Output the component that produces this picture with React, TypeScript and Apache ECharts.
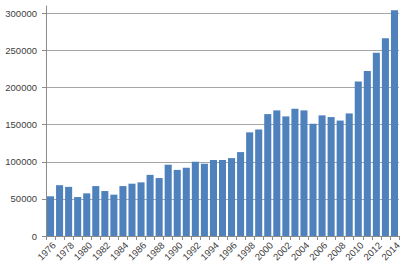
import React, { useEffect, useRef } from "react";
import * as echarts from "echarts";

const years: string[] = [
  "1976", "1977", "1978", "1979", "1980", "1981", "1982", "1983", "1984", "1985",
  "1986", "1987", "1988", "1989", "1990", "1991", "1992", "1993", "1994", "1995",
  "1996", "1997", "1998", "1999", "2000", "2001", "2002", "2003", "2004", "2005",
  "2006", "2007", "2008", "2009", "2010", "2011", "2012", "2013", "2014",
];

const values: number[] = [
  53500, 68500, 66200, 52500, 57500, 67300, 60600, 55700, 67300, 70500,
  72300, 82400, 78100, 96100, 89100, 92000, 100100, 97400, 102400, 102400,
  105000, 113100, 139700, 143700, 164300, 169300, 161200, 171500, 169300, 151300,
  162600, 160300, 155600, 165200, 208400, 222300, 246900, 266700, 304400,
];

const yMin = 0;
const yMax = 310000;
const yStep = 50000;

export default function App() {
  const ref = useRef<HTMLDivElement>(null);
  useEffect(() => {
    if (!ref.current) return;
    const chart = echarts.init(ref.current, null, { renderer: "svg" });
    chart.setOption({
      animation: false,
      backgroundColor: "#ffffff",
      grid: { left: 46, right: 10, top: 6, bottom: 35, containLabel: false },
      xAxis: {
        type: "category",
        data: years,
        boundaryGap: true,
        axisLine: { show: true, lineStyle: { color: "#8c8c8c", width: 1 } },
        axisTick: { show: true, interval: 0, length: 4, lineStyle: { color: "#8c8c8c" } },
        axisLabel: {
          interval: 1,
          rotate: 45,
          margin: 4,
          verticalAlign: "top",
          color: "#404040",
          fontSize: 9.5,
          fontFamily: "Liberation Sans",
        },
        splitLine: { show: false },
      },
      yAxis: {
        type: "value",
        min: yMin,
        max: yMax,
        interval: yStep,
        axisLine: { show: true, lineStyle: { color: "#8c8c8c", width: 1 } },
        axisTick: { show: true, length: 4, lineStyle: { color: "#8c8c8c" } },
        axisLabel: {
          showMaxLabel: false,
          margin: 9,
          color: "#404040",
          fontSize: 9.5,
          fontFamily: "Liberation Sans",
          formatter: (v: number) => (v % yStep === 0 ? String(v) : ""),
        },
        splitLine: {
          show: true,
          showMaxLine: false,
          lineStyle: {
            color: ["#a6a6a6", "#a6a6a6", "#a6a6a6", "#a6a6a6", "#a6a6a6", "#a6a6a6", "#a6a6a6", "rgba(0,0,0,0)"],
            width: 1,
          },
        },
      },
      series: [
        {
          type: "bar",
          data: values,
          barCategoryGap: "22%",
          itemStyle: { color: "#4f81bd" },
        },
      ],
    });
    return () => chart.dispose();
  }, []);
  return <div ref={ref} style={{ width: 409, height: 271, position: "absolute", left: 0, top: 0 }} />;
}
